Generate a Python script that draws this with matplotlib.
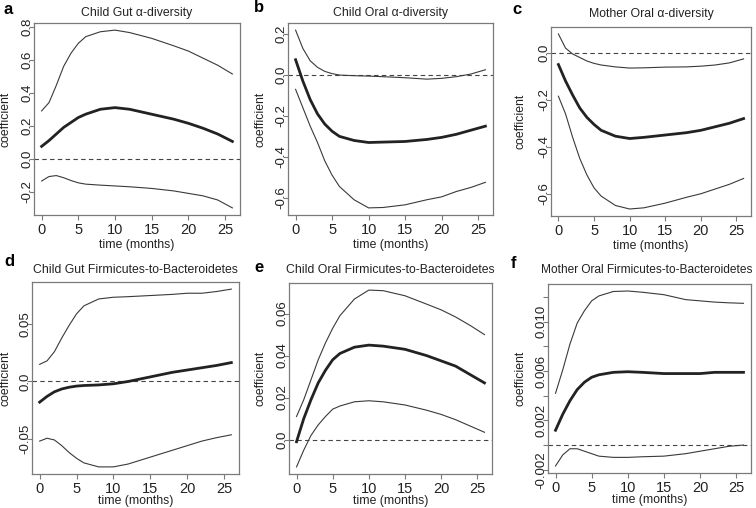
import matplotlib
matplotlib.use("Agg")
import matplotlib.pyplot as plt

plt.rcParams['font.family'] = ['Liberation Sans', 'DejaVu Sans']

# time points (months)
t = [0, 1, 2, 3, 4, 5, 6, 8, 10, 12, 15, 18, 20, 22, 24, 26]

# a - Child Gut alpha-diversity
a_up = [0.29, 0.34, 0.445, 0.56, 0.64, 0.70, 0.74, 0.77, 0.78, 0.765, 0.73, 0.685, 0.653, 0.61, 0.567, 0.514]
a_mid = [0.075, 0.11, 0.15, 0.19, 0.22, 0.25, 0.27, 0.30, 0.31, 0.30, 0.27, 0.24, 0.215, 0.185, 0.15, 0.105]
a_lo = [-0.135, -0.108, -0.102, -0.115, -0.132, -0.146, -0.154, -0.16, -0.165, -0.17, -0.18, -0.195, -0.21, -0.225, -0.25, -0.298]

# b - Child Oral alpha-diversity
b_up = [0.22, 0.13, 0.07, 0.038, 0.018, 0.007, 0.0, -0.003, -0.005, -0.008, -0.013, -0.02, -0.016, -0.008, 0.005, 0.026]
b_mid = [0.075, -0.03, -0.12, -0.19, -0.24, -0.275, -0.30, -0.32, -0.33, -0.328, -0.325, -0.315, -0.305, -0.29, -0.27, -0.25]
b_lo = [-0.07, -0.16, -0.25, -0.33, -0.42, -0.49, -0.545, -0.61, -0.65, -0.648, -0.635, -0.61, -0.596, -0.57, -0.55, -0.525]

# c - Mother Oral alpha-diversity
c_up = [0.08, 0.02, -0.005, -0.02, -0.035, -0.045, -0.052, -0.06, -0.065, -0.064, -0.061, -0.06, -0.057, -0.052, -0.043, -0.026]
c_mid = [-0.05, -0.12, -0.18, -0.235, -0.275, -0.305, -0.33, -0.355, -0.365, -0.36, -0.35, -0.34, -0.33, -0.315, -0.30, -0.28]
c_lo = [-0.185, -0.26, -0.36, -0.45, -0.52, -0.575, -0.61, -0.65, -0.665, -0.66, -0.64, -0.615, -0.60, -0.58, -0.56, -0.535]

# d - Child Gut Firmicutes-to-Bacteroidetes
d_up = [0.015, 0.018, 0.026, 0.038, 0.049, 0.059, 0.066, 0.072, 0.0735, 0.074, 0.075, 0.076, 0.077, 0.077, 0.0785, 0.0806]
d_mid = [-0.018, -0.013, -0.009, -0.0065, -0.005, -0.004, -0.0035, -0.003, -0.002, 0.0, 0.004, 0.008, 0.010, 0.012, 0.014, 0.0165]
d_lo = [-0.052, -0.0495, -0.051, -0.056, -0.062, -0.067, -0.071, -0.0745, -0.0745, -0.072, -0.066, -0.060, -0.056, -0.052, -0.049, -0.0465]

# e - Child Oral Firmicutes-to-Bacteroidetes
e_up = [0.011, 0.019, 0.0285, 0.038, 0.046, 0.053, 0.059, 0.0669, 0.0712, 0.0709, 0.0685, 0.0645, 0.0618, 0.0584, 0.0544, 0.050]
e_mid = [-0.001, 0.010, 0.019, 0.027, 0.033, 0.038, 0.041, 0.044, 0.045, 0.0445, 0.043, 0.040, 0.0375, 0.035, 0.031, 0.027]
e_lo = [-0.013, -0.005, 0.002, 0.007, 0.011, 0.0145, 0.016, 0.018, 0.0185, 0.018, 0.0165, 0.014, 0.012, 0.0095, 0.0065, 0.0035]

# f - Mother Oral Firmicutes-to-Bacteroidetes
f_up = [0.0042, 0.0061, 0.0082, 0.0099, 0.0109, 0.0117, 0.0121, 0.01246, 0.0125, 0.0124, 0.0122, 0.0118, 0.0117, 0.0116, 0.01154, 0.0115]
f_mid = [0.0012, 0.0025, 0.0036, 0.0045, 0.0051, 0.0055, 0.0057, 0.0059, 0.00595, 0.0059, 0.0058, 0.0058, 0.0058, 0.0059, 0.0059, 0.0059]
f_lo = [-0.0017, -0.0008, -0.0003, -0.0003, -0.0005, -0.0007, -0.0009, -0.001, -0.001, -0.00095, -0.0009, -0.0007, -0.0005, -0.0003, -0.0001, 0.0]

titles = ["Child Gut \u03b1-diversity", "Child Oral \u03b1-diversity", "Mother Oral \u03b1-diversity",
          "Child Gut Firmicutes-to-Bacteroidetes", "Child Oral Firmicutes-to-Bacteroidetes",
          "Mother Oral Firmicutes-to-Bacteroidetes"]
letters = ["a", "b", "c", "d", "e", "f"]
curves = [(a_up, a_mid, a_lo), (b_up, b_mid, b_lo), (c_up, c_mid, c_lo),
          (d_up, d_mid, d_lo), (e_up, e_mid, e_lo), (f_up, f_mid, f_lo)]

xticks = [0, 5, 10, 15, 20, 25]
yticks = [
    [-0.2, 0.0, 0.2, 0.4, 0.6, 0.8],
    [-0.6, -0.4, -0.2, 0.0, 0.2],
    [-0.6, -0.4, -0.2, 0.0],
    [-0.05, 0.0, 0.05],
    [0.0, 0.02, 0.04, 0.06],
    [-0.002, 0.0, 0.002, 0.004, 0.006, 0.008, 0.010, 0.012],
]
ylabels = [
    ["-0.2", "0.0", "0.2", "0.4", "0.6", "0.8"],
    ["-0.6", "-0.4", "-0.2", "0.0", "0.2"],
    ["-0.6", "-0.4", "-0.2", "0.0"],
    ["-0.05", "0.0", "0.05"],
    ["0.0", "0.02", "0.04", "0.06"],
    ["-0.002", "", "0.002", "", "0.006", "", "0.010", ""],
]

W, H = 756, 508
# axes boxes in pixels: left, top, right, bottom
boxes = [(34, 23, 240, 215), (288, 23, 493, 215), (551, 27, 751, 216),
         (32, 282, 239, 474), (289, 283, 492, 474), (548, 284, 751, 473)]
letter_pos = [(4, 9), (254, 8), (512, 9), (4, 262), (254, 267), (511, 264)]
title_pos = [(137, 13), (390, 13), (651, 14), (135, 270), (390, 270), (647, 270)]
title_size = [8.8, 8.8, 8.8, 8.8, 8.8, 8.6]
xlab_off = [30, 30, 30, 27, 27, 27]   # px below axes bottom
ylab_off = [28, 28, 31, 26, 28, 27]   # px left of axes

fig = plt.figure(figsize=(W / 100, H / 100), dpi=100)
grey = '#7a7a7a'

for i in range(6):
    l, tp, r, b = boxes[i]
    wpx, hpx = r - l, b - tp
    ax = fig.add_axes([l / W, 1 - b / H, wpx / W, hpx / H])
    up, mid, lo = curves[i]
    ax.axhline(0, color='#444444', lw=0.8, ls=(0, (4, 3)))
    ax.plot(t, up, color='#3a3a3a', lw=0.8)
    ax.plot(t, lo, color='#3a3a3a', lw=0.8)
    ax.plot(t, mid, color='#222222', lw=2.0)
    ax.margins(x=0.04, y=0.04)
    ax.set_xticks(xticks)
    ax.set_yticks(yticks[i])
    ax.set_yticklabels(ylabels[i], rotation=90, va='center')
    ax.tick_params(axis='both', length=3.6, width=0.8, color=grey, labelcolor='#222222')
    ax.tick_params(axis='x', labelsize=10.5, pad=2)
    ax.tick_params(axis='y', labelsize=9.5, pad=-3)
    for s in ax.spines.values():
        s.set_color(grey)
        s.set_linewidth(0.9)
    ax.set_xlabel("time (months)", fontsize=8.8, color='#222222', va='center')
    ax.xaxis.set_label_coords(0.5, -xlab_off[i] / hpx)
    ax.set_ylabel("coefficient", fontsize=8.8, color='#222222', va='center')
    ax.yaxis.set_label_coords(-ylab_off[i] / wpx, 0.5)
    fig.text(title_pos[i][0] / W, 1 - title_pos[i][1] / H, titles[i], fontsize=title_size[i],
             color='#222222', ha='center', va='center')
    fig.text(letter_pos[i][0] / W, 1 - letter_pos[i][1] / H, letters[i],
             fontsize=12, fontweight='bold', va='center', ha='left')

fig.savefig("out.png", dpi=100)
